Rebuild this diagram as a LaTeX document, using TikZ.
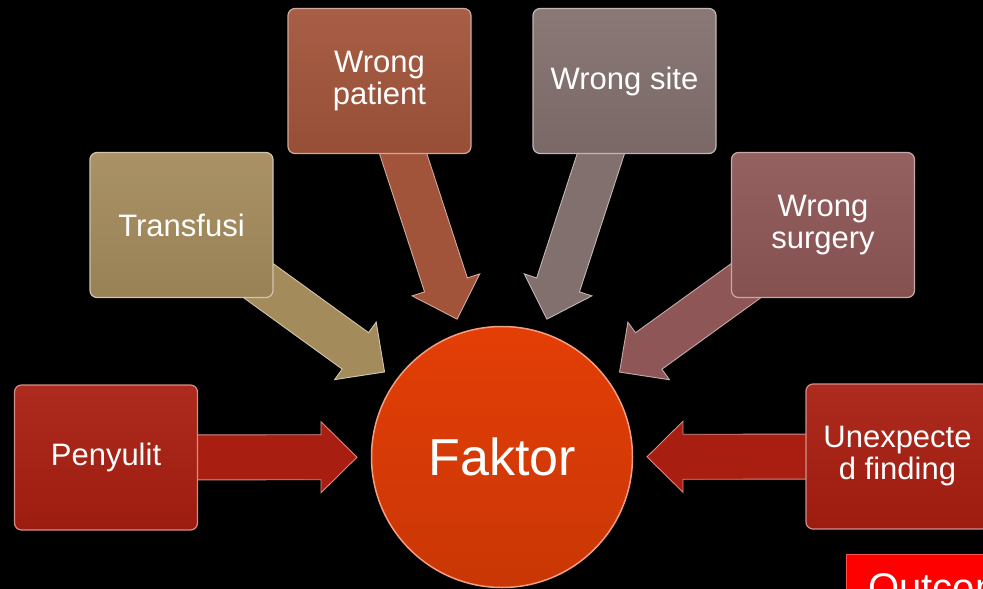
\documentclass[tikz,border=0pt]{standalone}
\usepackage{fontspec}
\setmainfont{Liberation Sans}
\usetikzlibrary{calc}

\pgfdeclarelayer{bg}
\pgfdeclarelayer{arrowlayer}
\pgfsetlayers{bg,arrowlayer,main}

% palette
\definecolor{cRed}{RGB}{168,30,16}
\definecolor{cTan}{RGB}{164,139,92}
\definecolor{cBrown}{RGB}{162,84,58}
\definecolor{cGrey}{RGB}{130,112,110}
\definecolor{cMauve}{RGB}{142,86,86}
\definecolor{cCore}{RGB}{228,62,6}
\definecolor{cAlert}{RGB}{255,0,0}

\tikzset{
  glossbox/.style={
    rounded corners=7pt, minimum width=183pt, minimum height=145pt,
    inner sep=0pt, align=center, text=white,
    font=\fontsize{31}{32}\selectfont,
    top color=#1!94!white, bottom color=#1!93!black,
    draw=#1!50!white, line width=1.2pt},
  corebubble/.style={
    circle, minimum size=261pt, inner sep=0pt, text=white,
    font=\fontsize{52}{56}\selectfont,
    top color=cCore, bottom color=cCore!88!black,
    draw=cCore!50!white, line width=1.5pt},
  alertbox/.style={
    anchor=north west, minimum width=160pt, minimum height=60pt,
    inner xsep=22pt, inner ysep=18pt, text height=28.6pt,
    align=left, text=white, font=\fontsize{40}{44}\selectfont,
    fill=cAlert, draw=cAlert!70!white, line width=1pt}
}

% block arrow from a source box to a point 145pt out from the target centre
\newcommand\feedarrow[3]{%
  \begin{pgfonlayer}{arrowlayer}
    \coordinate (tip) at ($(#2.center)!145pt!(#1.center)$);
    \coordinate (hb) at ($(tip)!36pt!(#1.center)$);
    \filldraw[fill=#3, draw=#3!50!white, line width=0.9pt, line join=miter]
      ($(#1.center)!22.5pt!90:(tip)$) -- ($(hb)!22.5pt!90:(tip)$)
      -- ($(hb)!35.5pt!90:(tip)$) -- (tip)
      -- ($(hb)!35.5pt!-90:(tip)$) -- ($(hb)!22.5pt!-90:(tip)$)
      -- ($(#1.center)!22.5pt!-90:(tip)$) -- cycle;
  \end{pgfonlayer}}

\begin{document}
\begin{tikzpicture}[x=1pt,y=-1pt]
  \useasboundingbox (0,0) rectangle (983,589);
  \begin{pgfonlayer}{bg}
    \fill[black] (0,0) rectangle (983,589);
  \end{pgfonlayer}
  \clip (0,0) rectangle (983,589);

  % contributing factors
  \node[glossbox=cRed]   (pen) at (106,457.5) {Penyulit};
  \node[glossbox=cTan]   (tra) at (181.5,225) {Transfusi};
  \node[glossbox=cBrown] (pat) at (379.5,81)  {Wrong\\patient};
  \node[glossbox=cGrey]  (sit) at (624.5,81)  {Wrong site};
  \node[glossbox=cMauve] (sur) at (823,225)   {Wrong\\surgery};
  \node[glossbox=cRed]   (une) at (897.5,456.5) {Unexpecte\\d finding};

  % central factor
  \node[corebubble] (fak) at (502,457) {Faktor};

  % outcome label, running off the lower right edge
  \node[alertbox] (out) at (846,554) {Outcome};

  % arrows into the centre
  \feedarrow{pen}{fak}{cRed}
  \feedarrow{tra}{fak}{cTan}
  \feedarrow{pat}{fak}{cBrown}
  \feedarrow{sit}{fak}{cGrey}
  \feedarrow{sur}{fak}{cMauve}
  \feedarrow{une}{fak}{cRed}
\end{tikzpicture}
\end{document}
